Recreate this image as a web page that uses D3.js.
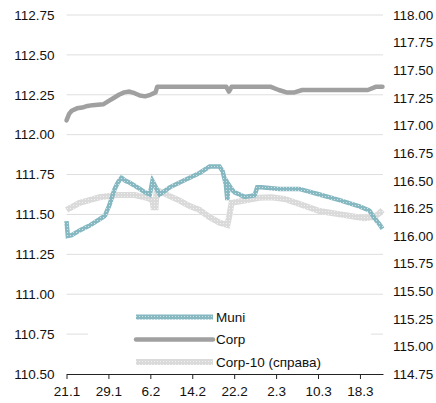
<!DOCTYPE html>
<html>
<head>
<meta charset="utf-8">
<script src="https://cdn.jsdelivr.net/npm/d3@7"></script>
<style>
	body { margin: 0; background: #fff; }
	text { font-family: "Liberation Sans", Arial, sans-serif; font-size: 13.5px; fill: #111; }
</style>
</head>
<body>
<div id="chart"></div>
<script>
// x = days since 21.1
const tickDays = [0, 8, 16, 24, 32, 40, 48, 56];
const tickLabels = ["21.1", "29.1", "6.2", "14.2", "22.2", "2.3", "10.3", "18.3"];
const leftTicks = [110.5, 110.75, 111, 111.25, 111.5, 111.75, 112, 112.25, 112.5, 112.75];
const rightTicks = [114.75, 115, 115.25, 115.5, 115.75, 116, 116.25, 116.5, 116.75, 117, 117.25, 117.5, 117.75, 118];
const seriesNames = ["Muni", "Corp", "Corp-10 (справа)"];

const muniDays = [0, 0.25, 1, 2.5, 4.4, 6.3, 7.3, 8.2, 9.2, 9.8, 10.5, 11.3, 12, 14, 14.9, 15.9, 16.4, 17.2, 17.8, 19.7, 21.6, 23.5, 25.4, 27.3, 29.2, 29.8, 30.4, 30.7, 30.9, 31.5, 32, 34, 35.9, 36.4, 37.2, 40.6, 44.4, 48.3, 52.1, 55.9, 57.8, 58.7, 59.7, 60.3];
const muniVals = [111.458, 111.365, 111.37, 111.40, 111.43, 111.47, 111.49, 111.56, 111.66, 111.70, 111.73, 111.71, 111.70, 111.66, 111.64, 111.625, 111.71, 111.66, 111.625, 111.67, 111.70, 111.73, 111.76, 111.80, 111.80, 111.77, 111.69, 111.59, 111.69, 111.66, 111.64, 111.61, 111.62, 111.67, 111.67, 111.66, 111.66, 111.625, 111.59, 111.55, 111.525, 111.48, 111.44, 111.41];

const corpDays = [0, 0.5, 1, 2, 3, 4, 5, 7, 8, 9, 10, 11, 12, 13, 14, 15, 16, 17, 17.3, 30.5, 31, 31.5, 39, 40.5, 42, 43.5, 45, 57.5, 59, 60.3];
const corpVals = [112.09, 112.13, 112.15, 112.165, 112.17, 112.18, 112.185, 112.19, 112.21, 112.23, 112.25, 112.265, 112.27, 112.26, 112.245, 112.24, 112.25, 112.265, 112.30, 112.30, 112.27, 112.30, 112.30, 112.28, 112.265, 112.265, 112.28, 112.28, 112.30, 112.30];

const corp10Days = [0, 1, 2.5, 4.4, 6.3, 9.6, 13, 14.9, 15.9, 16.4, 16.6, 17, 17.2, 17.8, 19.7, 21.6, 23.5, 25.4, 27.3, 29.2, 30.7, 31.1, 31.5, 34, 36.8, 39.1, 41.6, 44.4, 48.3, 53, 56.8, 58.7, 59.7, 60.3];
const corp10Vals = [116.235, 116.26, 116.30, 116.325, 116.35, 116.37, 116.37, 116.35, 116.335, 116.32, 116.26, 116.26, 116.415, 116.405, 116.36, 116.32, 116.27, 116.235, 116.17, 116.12, 116.10, 116.19, 116.30, 116.32, 116.345, 116.35, 116.335, 116.29, 116.225, 116.19, 116.16, 116.17, 116.205, 116.235];

const width = 436, height = 403;
const margin = { top: 15, right: 53, bottom: 29, left: 66.5 };

const x = d3.scaleLinear().domain([0, 60.4]).range([margin.left, width - margin.right]);
const y = d3.scaleLinear().domain([110.5, 112.75]).range([height - margin.bottom, margin.top]);
const y2 = d3.scaleLinear().domain([114.75, 118]).range([height - margin.bottom, margin.top]);

const svg = d3.select("#chart").append("svg").attr("width", width).attr("height", height);

const defs = svg.append("defs");
function addPattern(id, bg, dot) {
	const p = defs.append("pattern").attr("id", id).attr("patternUnits", "userSpaceOnUse")
		.attr("width", 3).attr("height", 3);
	p.append("rect").attr("width", 3).attr("height", 3).attr("fill", bg);
	p.append("rect").attr("x", 1).attr("y", 1).attr("width", 1).attr("height", 1).attr("fill", dot);
}
addPattern("patMuni", "#86b8c2", "#cfe3e7");
addPattern("patCorp10", "#dadada", "#f0f0f0");

// gridlines
svg.append("g").selectAll("line").data(leftTicks.slice(1)).join("line")
	.attr("x1", x(0)).attr("x2", x(60.4))
	.attr("y1", d => y(d)).attr("y2", d => y(d))
	.attr("stroke", "#dedede").attr("stroke-width", 1);

const line = (yy) => d3.line().x(d => x(d[0])).y(d => yy(d[1])).curve(d3.curveLinear);

svg.append("path").datum(d3.zip(corp10Days, corp10Vals))
	.attr("fill", "none").attr("stroke", "url(#patCorp10)").attr("stroke-width", 6)
	.attr("d", line(y2));
svg.append("path").datum(d3.zip(muniDays, muniVals))
	.attr("fill", "none").attr("stroke", "url(#patMuni)").attr("stroke-width", 4.5)
	.attr("d", line(y));
svg.append("path").datum(d3.zip(corpDays, corpVals))
	.attr("fill", "none").attr("stroke", "#a0a0a0").attr("stroke-width", 4.5)
	.attr("stroke-linejoin", "round").attr("stroke-linecap", "round")
	.attr("d", line(y));

// legend
const lg = svg.append("g");
lg.append("rect").attr("x", 88).attr("y", 303).attr("width", 283).attr("height", 68).attr("fill", "#fff");
const legStyles = [
	{ stroke: "url(#patMuni)", w: 5, cap: "butt" },
	{ stroke: "#a0a0a0", w: 4.5, cap: "round" },
	{ stroke: "url(#patCorp10)", w: 6, cap: "butt" }
];
seriesNames.forEach((name, i) => {
	const ly = 317 + i * 22.5;
	lg.append("line").attr("x1", 136).attr("x2", 213).attr("y1", ly).attr("y2", ly)
		.attr("stroke", legStyles[i].stroke).attr("stroke-width", legStyles[i].w)
		.attr("stroke-linecap", legStyles[i].cap);
	lg.append("text").attr("x", 216).attr("y", ly).attr("dy", "0.35em").text(name);
});

// axes
const xAxis = svg.append("g").attr("transform", `translate(0,${height - margin.bottom})`)
	.call(d3.axisBottom(x).tickValues(tickDays).tickFormat((d, i) => tickLabels[i]).tickSize(5).tickSizeOuter(0));
xAxis.select(".domain").attr("stroke", "#222");
xAxis.selectAll(".tick line").attr("stroke", "#222");
xAxis.selectAll("text").attr("dy", null).attr("y", 22).style("font-size", "13.5px")
	.style("font-family", "'Liberation Sans', Arial, sans-serif").attr("fill", "#111");

const yAxis = svg.append("g").attr("transform", `translate(${margin.left},0)`)
	.call(d3.axisLeft(y).tickValues(leftTicks).tickFormat(d3.format(".2f")).tickSize(0).tickPadding(12));
yAxis.select(".domain").remove();
yAxis.selectAll("text").style("font-size", "13.5px")
	.style("font-family", "'Liberation Sans', Arial, sans-serif").attr("fill", "#111");

const yAxis2 = svg.append("g").attr("transform", `translate(${width - margin.right},0)`)
	.call(d3.axisRight(y2).tickValues(rightTicks).tickFormat(d3.format(".2f")).tickSize(0).tickPadding(10));
yAxis2.select(".domain").remove();
yAxis2.selectAll("text").style("font-size", "13.5px")
	.style("font-family", "'Liberation Sans', Arial, sans-serif").attr("fill", "#111");
</script>
</body>
</html>
